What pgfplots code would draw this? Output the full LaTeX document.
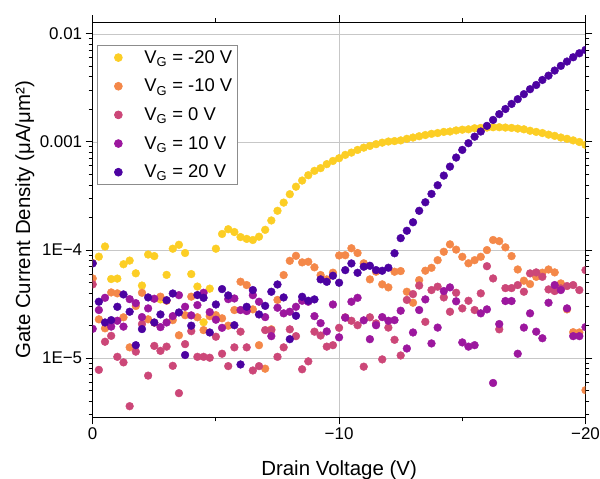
\documentclass[border=0pt]{standalone}
\usepackage{fontspec}
\setmainfont{Liberation Sans}
\usepackage{pgfplots}
\pgfplotsset{compat=1.18}
\definecolor{cA}{HTML}{FCCE25}
\definecolor{cB}{HTML}{F48849}
\definecolor{cC}{HTML}{CC4778}
\definecolor{cD}{HTML}{9C179E}
\definecolor{cE}{HTML}{4C02A1}
\begin{document}
\begin{tikzpicture}
\begin{axis}[
  name=ax,
  width=492.8bp, height=395bp, scale only axis,
  xmin=-20, xmax=0, x dir=reverse,
  ymode=log, ymin=2.84e-6, ymax=1.28e-2,
  xtick={0,-10,-20}, xticklabels={0,−10,−20}, minor xtick={-5,-15},
  ytick={1e-5,1e-4,1e-3,1e-2}, yticklabels={1E−5,1E−4,0.001,0.01},
  minor ytick={3e-6,4e-6,5e-6,6e-6,7e-6,8e-6,9e-6,2e-5,3e-5,4e-5,5e-5,6e-5,7e-5,8e-5,9e-5,2e-4,3e-4,4e-4,5e-4,6e-4,7e-4,8e-4,9e-4,2e-3,3e-3,4e-3,5e-3,6e-3,7e-3,8e-3,9e-3},
  /pgf/number format/assume math mode=true,
  tick align=outside, major tick length=7bp, minor tick length=4bp,
  grid=major, major grid style={black!22, line width=0.7bp},
  axis line style={line width=1.2bp},
  every tick/.style={black, line width=1bp},
  tick label style={font=\fontsize{17}{20}\selectfont},
  label style={font=\fontsize{20.5}{24}\selectfont},
  xlabel={Drain Voltage (V)},
  ylabel={Gate Current Density (μA/μm²)},
  xlabel style={at={(axis description cs:0.5,-0.1481)},anchor=base},
  ylabel style={at={(axis description cs:-0.1272,0.5)},anchor=base},
  clip marker paths=true,
  legend cell align=left,
  legend image code/.code={\path[draw=none,fill=none] (0bp,-4bp) rectangle (42bp,4bp); \draw[mark repeat=1,#1] plot coordinates {(18bp,0bp)};},
  legend style={at={(axis description cs:0.0087,0.9425)}, anchor=north west,
    draw=black!45, line width=0.8bp, font=\fontsize{18.5}{22}\selectfont,
    inner xsep=3bp, inner ysep=3bp, row sep=10.3bp, fill=white},
  every axis plot/.append style={only marks, mark=*, mark size=3.9bp, mark options={draw=none}},
]
\addplot[color=cA, mark options={fill=cA, draw=none}] coordinates {
(0,7.6e-5) (-0.25,8.7e-5) (-0.5,1.08e-4) (-0.75,5.4e-5) (-1,5.45e-5) (-1.25,7.4e-5) (-1.5,8.0e-5) (-1.75,6.1e-5) (-2,4.7e-5) (-2.25,9.1e-5)
(-2.5,8.8e-5) (-2.75,3.5e-5) (-3,5.9e-5) (-3.25,1.03e-4) (-3.5,1.12e-4) (-3.75,9.4e-5) (-4,6.0e-5) (-4.25,4.6e-5) (-4.5,2.15e-5) (-4.75,4.4e-5)
(-5,1.03e-4) (-5.25,1.41e-4) (-5.5,1.56e-4) (-5.75,1.47e-4) (-6,1.32e-4) (-6.25,1.27e-4) (-6.5,1.24e-4) (-6.75,1.33e-4) (-7,1.54e-4) (-7.25,1.88e-4)
(-7.5,2.31e-4) (-7.75,2.75e-4) (-8,3.29e-4) (-8.25,3.86e-4) (-8.5,4.40e-4) (-8.75,4.93e-4) (-9,5.41e-4) (-9.25,5.73e-4) (-9.5,6.24e-4) (-9.75,6.68e-4)
(-10,7.08e-4) (-10.25,7.60e-4) (-10.5,7.98e-4) (-10.75,8.45e-4) (-11,8.87e-4) (-11.25,9.20e-4) (-11.5,9.55e-4) (-11.75,9.86e-4) (-12,1.01e-3) (-12.25,1.02e-3)
(-12.5,1.035e-3) (-12.75,1.07e-3) (-13,1.10e-3) (-13.25,1.13e-3) (-13.5,1.16e-3) (-13.75,1.19e-3) (-14,1.21e-3) (-14.25,1.24e-3) (-14.5,1.25e-3) (-14.75,1.28e-3)
(-15,1.30e-3) (-15.25,1.31e-3) (-15.5,1.34e-3) (-15.75,1.35e-3) (-16,1.36e-3) (-16.25,1.37e-3) (-16.5,1.37e-3) (-16.75,1.36e-3) (-17,1.35e-3) (-17.25,1.33e-3)
(-17.5,1.31e-3) (-17.75,1.27e-3) (-18,1.24e-3) (-18.25,1.21e-3) (-18.5,1.17e-3) (-18.75,1.14e-3) (-19,1.10e-3) (-19.25,1.07e-3) (-19.5,1.035e-3) (-19.75,1.00e-3)
(-20,9.4e-4)};
\addlegendentry{V\textsubscript{G} = -20 V}
\addplot[color=cB, mark options={fill=cB, draw=none}] coordinates {
(0,5.47e-5) (-0.25,2.29e-5) (-0.5,1.89e-5) (-0.75,4.06e-5) (-1,3.98e-5) (-1.25,2.39e-5) (-1.5,1.26e-5) (-1.75,3.04e-5) (-2,4.03e-5) (-2.25,2.29e-5)
(-2.5,2.13e-5) (-2.75,3.71e-5) (-3,3.40e-5) (-3.25,2.25e-5) (-3.5,1.63e-5) (-3.75,2.50e-5) (-4,3.71e-5) (-4.25,2.39e-5) (-4.5,1.82e-5) (-4.75,2.45e-5)
(-5,2.50e-5) (-5.25,2.34e-5) (-5.5,2.0e-5) (-5.75,2.79e-5) (-6,5.10e-5) (-6.25,4.75e-5) (-6.5,2.83e-5) (-6.75,1.32e-5) (-7,8.0e-6) (-7.25,1.85e-5)
(-7.5,3.46e-5) (-7.75,5.88e-5) (-8,7.96e-5) (-8.25,8.85e-5) (-8.5,7.70e-5) (-8.75,7.80e-5) (-9,6.93e-5) (-9.25,5.88e-5) (-9.5,5.36e-5) (-9.75,6.18e-5)
(-10,8.92e-5) (-10.25,8.97e-5) (-10.5,1.04e-4) (-10.75,9.4e-5) (-11,7.55e-5) (-11.25,5.36e-5) (-11.5,6.31e-5) (-11.75,4.82e-5) (-12,4.52e-5) (-12.25,6.31e-5)
(-12.5,6.4e-5) (-12.75,4.12e-5) (-13,3.26e-5) (-13.25,5.28e-5) (-13.5,6.45e-5) (-13.75,6.86e-5) (-14,8.07e-5) (-14.25,9.65e-5) (-14.5,1.13e-4) (-14.75,1.01e-4)
(-15,8.67e-5) (-15.25,7.55e-5) (-15.5,8.07e-5) (-15.75,8.67e-5) (-16,1.0e-4) (-16.25,1.24e-4) (-16.5,1.21e-4) (-16.75,1.06e-4) (-17,8.8e-5) (-17.25,6.62e-5)
(-17.5,5.21e-5) (-17.75,4.85e-5) (-18,5.66e-5) (-18.25,6.18e-5) (-18.5,6.62e-5) (-18.75,6.22e-5) (-19,4.92e-5) (-19.25,2.83e-5) (-19.5,1.74e-5) (-19.75,1.73e-5)
(-20,5.06e-6)};
\addlegendentry{V\textsubscript{G} = -10 V}
\addplot[color=cC, mark options={fill=cC, draw=none}] coordinates {
(0,4.82e-5) (-0.25,7.8e-6) (-0.5,1.42e-5) (-0.75,1.61e-5) (-1,1.03e-5) (-1.25,9.15e-6) (-1.5,3.6e-6) (-1.75,1.15e-5) (-2,2.07e-5) (-2.25,6.9e-6)
(-2.5,1.30e-5) (-2.75,1.17e-5) (-3,1.28e-5) (-3.25,8.5e-6) (-3.5,4.75e-6) (-3.75,1.35e-5) (-4,1.78e-5) (-4.25,1.03e-5) (-4.5,1.03e-5) (-4.75,1.01e-5)
(-5,1.58e-5) (-5.25,1.10e-5) (-5.5,8.45e-6) (-5.75,1.26e-5) (-6,1.76e-5) (-6.25,1.26e-5) (-6.5,7.7e-6) (-6.75,8.45e-6) (-7,1.82e-5) (-7.25,1.82e-5)
(-7.5,1.03e-5) (-7.75,1.26e-5) (-8,1.85e-5) (-8.25,1.60e-5) (-8.5,7.9e-6) (-8.75,9.35e-6) (-9,1.76e-5) (-9.25,1.62e-5) (-9.5,1.28e-5) (-9.75,1.32e-5)
(-10,1.91e-5) (-10.25,2.39e-5) (-10.5,2.22e-5) (-10.75,2.02e-5) (-11,8.35e-6) (-11.25,2.39e-5) (-11.5,2.10e-5) (-11.75,9.75e-6) (-12,1.92e-5) (-12.25,1.48e-5)
(-12.5,1.06e-5) (-12.75,3.46e-5) (-13,3.92e-5) (-13.25,4.70e-5) (-13.5,2.17e-5) (-13.75,4.27e-5) (-14,4.59e-5) (-14.25,3.65e-5) (-14.5,2.69e-5) (-14.75,4.03e-5)
(-15,2.89e-5) (-15.25,3.40e-5) (-15.5,2.79e-5) (-15.75,3.98e-5) (-16,7.1e-5) (-16.25,5.47e-5) (-16.5,1.85e-5) (-16.75,4.45e-5) (-17,4.45e-5) (-17.25,4.75e-5)
(-17.5,4.12e-5) (-17.75,6.09e-5) (-18,6.22e-5) (-18.25,5.66e-5) (-18.5,4.33e-5) (-18.75,4.18e-5) (-19,4.42e-5) (-19.25,4.65e-5) (-19.5,4.75e-5) (-19.75,4.27e-5)
(-20,6.53e-5)};
\addlegendentry{V\textsubscript{G} = 0 V}
\addplot[color=cD, mark options={fill=cD, draw=none}] coordinates {
(0,1.87e-5) (-0.25,2.79e-5) (-0.5,3.62e-5) (-0.75,1.96e-5) (-1,2.22e-5) (-1.25,1.96e-5) (-1.5,3.52e-5) (-1.75,3.23e-5) (-2,2.40e-5) (-2.25,2.89e-5)
(-2.5,3.55e-5) (-2.75,1.94e-5) (-3,2.14e-5) (-3.25,2.45e-5) (-3.5,3.83e-5) (-3.75,2.99e-5) (-4,2.49e-5) (-4.25,3.10e-5) (-4.5,4.03e-5) (-4.75,2.67e-5)
(-5,2.27e-5) (-5.25,1.91e-5) (-5.5,3.52e-5) (-5.75,3.57e-5) (-6,2.79e-5) (-6.25,2.73e-5) (-6.5,3.83e-5) (-6.75,3.33e-5) (-7,2.40e-5) (-7.25,1.60e-5)
(-7.5,2.93e-5) (-7.75,2.60e-5) (-8,2.69e-5) (-8.25,2.99e-5) (-8.5,3.40e-5) (-8.75,3.33e-5) (-9,2.45e-5) (-9.25,2.11e-5) (-9.5,1.77e-5) (-9.75,3.14e-5)
(-10,1.56e-5) (-10.25,2.37e-5) (-10.5,3.33e-5) (-10.75,3.62e-5) (-11,2.24e-5) (-11.25,1.50e-5) (-11.5,2.02e-5) (-11.75,2.40e-5) (-12,2.22e-5) (-12.25,2.25e-5)
(-12.5,2.75e-5) (-12.75,1.23e-5) (-13,1.73e-5) (-13.25,2.79e-5) (-13.5,3.50e-5) (-13.75,1.37e-5) (-14,1.92e-5) (-14.25,4.18e-5) (-14.5,4.52e-5) (-14.75,3.36e-5)
(-15,1.40e-5) (-15.25,1.28e-5) (-15.5,1.32e-5) (-15.75,2.60e-5) (-16,2.83e-5) (-16.25,5.9e-6) (-16.5,2.07e-5) (-16.75,3.38e-5) (-17,3.38e-5) (-17.25,1.10e-5)
(-17.5,1.92e-5) (-17.75,2.60e-5) (-18,1.76e-5) (-18.25,1.53e-5) (-18.5,3.26e-5) (-18.75,4.75e-5) (-19,4.27e-5) (-19.25,2.89e-5) (-19.5,1.60e-5) (-19.75,1.60e-5)
(-20,1.94e-5)};
\addlegendentry{V\textsubscript{G} = 10 V}
\addplot[color=cE, mark options={fill=cE, draw=none}] coordinates {
(0,7.53e-5) (-0.25,3.33e-5) (-0.5,2.14e-5) (-0.75,2.25e-5) (-1,2.99e-5) (-1.25,3.89e-5) (-1.5,2.69e-5) (-1.75,1.32e-5) (-2,1.86e-5) (-2.25,3.65e-5)
(-2.5,2.14e-5) (-2.75,2.54e-5) (-3,3.44e-5) (-3.25,3.97e-5) (-3.5,2.65e-5) (-3.75,1.07e-5) (-4,2.0e-5) (-4.25,3.84e-5) (-4.5,3.62e-5) (-4.75,1.73e-5)
(-5,3.14e-5) (-5.25,4.36e-5) (-5.5,3.81e-5) (-5.75,2.02e-5) (-6,8.75e-6) (-6.25,2.99e-5) (-6.5,4.27e-5) (-6.75,2.54e-5) (-7,3.05e-5) (-7.25,4.12e-5)
(-7.5,4.81e-5) (-7.75,3.65e-5) (-8,1.50e-5) (-8.25,2.47e-5) (-8.5,3.70e-5) (-8.75,3.40e-5) (-9,3.50e-5) (-9.25,5.36e-5) (-9.5,5.09e-5) (-9.75,5.79e-5)
(-10,4.99e-5) (-10.25,6.53e-5) (-10.5,7.53e-5) (-10.75,6.17e-5) (-11,7.02e-5) (-11.25,7.16e-5) (-11.5,6.53e-5) (-11.75,6.44e-5) (-12,6.87e-5) (-12.25,9.35e-5)
(-12.5,1.29e-4) (-12.75,1.51e-4) (-13,1.81e-4) (-13.25,2.31e-4) (-13.5,2.77e-4) (-13.75,3.31e-4) (-14,3.98e-4) (-14.25,4.89e-4) (-14.5,5.92e-4) (-14.75,7.18e-4)
(-15,8.45e-4) (-15.25,9.75e-4) (-15.5,1.12e-3) (-15.75,1.25e-3) (-16,1.41e-3) (-16.25,1.60e-3) (-16.5,1.81e-3) (-16.75,2.02e-3) (-17,2.25e-3) (-17.25,2.49e-3)
(-17.5,2.77e-3) (-17.75,3.08e-3) (-18,3.37e-3) (-18.25,3.75e-3) (-18.5,4.11e-3) (-18.75,4.58e-3) (-19,5.06e-3) (-19.25,5.55e-3) (-19.5,6.08e-3) (-19.75,6.62e-3)
(-20,7.11e-3)};
\addlegendentry{V\textsubscript{G} = 20 V}
\end{axis}
\pgfresetboundingbox
\path (ax.south west) ++(-92.7bp,-61.7bp) rectangle ([xshift=14.5bp,yshift=22.3bp]ax.north east);
\end{tikzpicture}
\end{document}
